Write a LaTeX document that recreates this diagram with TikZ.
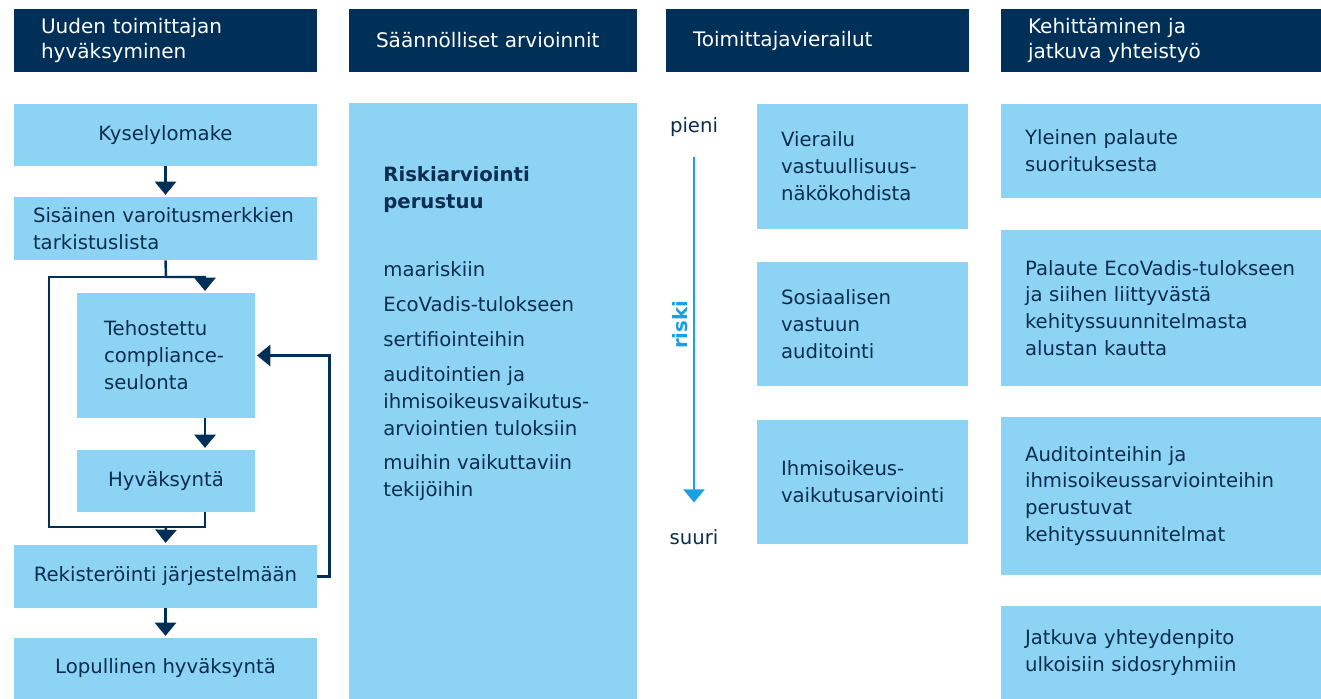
\documentclass[tikz,border=0pt]{standalone}
\usepackage{fontspec}
\setmainfont{DejaVu Sans}
\usetikzlibrary{arrows.meta,calc}
\definecolor{headnavy}{HTML}{003057}
\definecolor{boxblue}{HTML}{8DD3F4}
\definecolor{textnavy}{HTML}{0B2D4F}
\definecolor{riskblue}{HTML}{1A9FE0}
\hyphenpenalty=10000
\exhyphenpenalty=10000
\newcommand\bodyfont{\fontsize{11.2pt}{15.3pt}\selectfont}
\newcommand\headfont{\fontsize{11.4pt}{14.7pt}\selectfont}
\tikzset{
	head/.style={fill=headnavy, text=white, font=\headfont, inner ysep=0pt, minimum height=1.26cm, align=left},
	box/.style={fill=boxblue, text=textnavy, font=\bodyfont, inner ysep=0pt},
	link/.style={draw=headnavy, line width=1.4pt},
	flow/.style={link, -{Triangle[width=12pt,length=7.5pt]}, shorten >=1pt},
	riskarrow/.style={draw=riskblue, line width=1.2pt, -{Triangle[width=12pt,length=7.5pt]}},
}
\begin{document}
\begin{tikzpicture}[x=0.02cm, y=-0.02cm]
	\useasboundingbox (0,0) rectangle (1321,699);
	% otsikot
	\node[head, text width=4.98cm, inner xsep=0.54cm] (uusi) at (165.5,40.5) {Uuden toimittajan\\hyväksyminen};
	\node[head, text width=4.68cm, inner xsep=0.54cm] (saannolliset) at (493,40.5) {Säännölliset arvioinnit};
	\node[head, text width=4.98cm, inner xsep=0.54cm] (vierailut) at (817.5,40.5) {Toimittajavierailut};
	\node[head, text width=5.32cm, inner xsep=0.54cm] (kehittaminen) at (1161,40.5) {Kehittäminen ja\\jatkuva yhteistyö};
	% uuden toimittajan hyvaksyminen
	\node[box, minimum width=6.06cm, minimum height=1.24cm] (kysely) at (165.5,135) {Kyselylomake};
	\node[box, text width=5.30cm, inner xsep=0.38cm, minimum height=1.26cm, align=left] (sisainen) at (165.5,228.5) {Sisäinen varoitusmerkkien\\tarkistuslista};
	\node[box, text width=2.48cm, inner xsep=0.54cm, minimum height=2.50cm, align=left] (tehostettu) at (166,355.5) {Tehostettu\\compliance-\\seulonta};
	\node[box, minimum width=3.56cm, minimum height=1.24cm] (hyvaksynta) at (166,481) {Hyväksyntä};
	\node[box, minimum width=6.06cm, minimum height=1.26cm] (rekisterointi) at (165.5,576.5) {Rekisteröinti järjestelmään};
	\node[box, minimum width=6.06cm, minimum height=1.22cm] (lopullinen) at (165.5,668.5) {Lopullinen hyväksyntä};
	\draw[flow] (kysely) -- (sisainen);
	\draw[flow] (sisainen.south) -- (166,277) coordinate (haara) -| ($(tehostettu.north)+(39,0)$);
	\draw[link] (haara) -| (49,527) -| ($(hyvaksynta.south)+(39,0)$);
	\draw[flow] ($(tehostettu.south)+(39,0)$) -- ($(hyvaksynta.north)+(39,0)$);
	\coordinate (kokoaja) at (166,527);
	\draw[flow] (kokoaja) -- (rekisterointi.north);
	\draw[flow] (rekisterointi.east) -- ++(12,0) |- (tehostettu.east);
	\draw[flow] (rekisterointi) -- (lopullinen);
	% saannolliset arvioinnit
	\node[box, minimum width=5.76cm, minimum height=11.92cm] (riskilaatikko) at (493,401) {};
	\node[box, fill=none, anchor=north west, inner sep=0pt, align=left] (perusteet) at (383,166) {\textbf{Riskiarviointi}\\\textbf{perustuu}\\[23.8pt]
		maariskiin\\[4.5pt]
		EcoVadis-tulokseen\\[4.5pt]
		sertifiointeihin\\[4.5pt]
		auditointien ja\\ihmisoikeusvaikutus-\\arviointien tuloksiin\\[4.5pt]
		muihin vaikuttaviin\\tekijöihin};
	% toimittajavierailut
	\node[text=textnavy, font=\bodyfont, inner sep=0pt] (pieni) at (694,127) {pieni};
	\node[text=textnavy, font=\bodyfont, inner sep=0pt] (suuri) at (694,537) {suuri};
	\draw[riskarrow, shorten <=0.4cm, shorten >=0.53cm] (pieni.south) -- (suuri.north);
	\node[text=riskblue, font=\bodyfont\bfseries, rotate=90] (riski) at (680,325) {riski};
	\node[box, text width=3.26cm, inner xsep=0.48cm, minimum height=2.50cm, align=left] (vastuu) at (862.5,166.5) {Vierailu\\vastuullisuus-\\näkökohdista};
	\node[box, text width=3.26cm, inner xsep=0.48cm, minimum height=2.48cm, align=left] (sosiaalinen) at (862.5,324) {Sosiaalisen\\vastuun\\auditointi};
	\node[box, text width=3.26cm, inner xsep=0.48cm, minimum height=2.48cm, align=left] (ihmisoikeus) at (862.5,482) {Ihmisoikeus-\\vaikutusarviointi};
	% kehittaminen ja jatkuva yhteistyo
	\node[box, text width=5.44cm, inner xsep=0.48cm, minimum height=1.88cm, align=left] (palaute) at (1161,151) {Yleinen palaute\\suorituksesta};
	\node[box, text width=5.44cm, inner xsep=0.48cm, minimum height=3.12cm, align=left] (ecovadis) at (1161,308) {Palaute EcoVadis-tulokseen\\ja siihen liittyvästä\\kehityssuunnitelmasta\\alustan kautta};
	\node[box, text width=5.44cm, inner xsep=0.48cm, minimum height=3.16cm, align=left] (suunnitelmat) at (1161,496) {Auditointeihin ja\\ihmisoikeussarviointeihin\\perustuvat\\kehityssuunnitelmat};
	\node[box, text width=5.44cm, inner xsep=0.48cm, minimum height=1.86cm, align=left] (yhteydenpito) at (1161,652.5) {Jatkuva yhteydenpito\\ulkoisiin sidosryhmiin};
\end{tikzpicture}
\end{document}
